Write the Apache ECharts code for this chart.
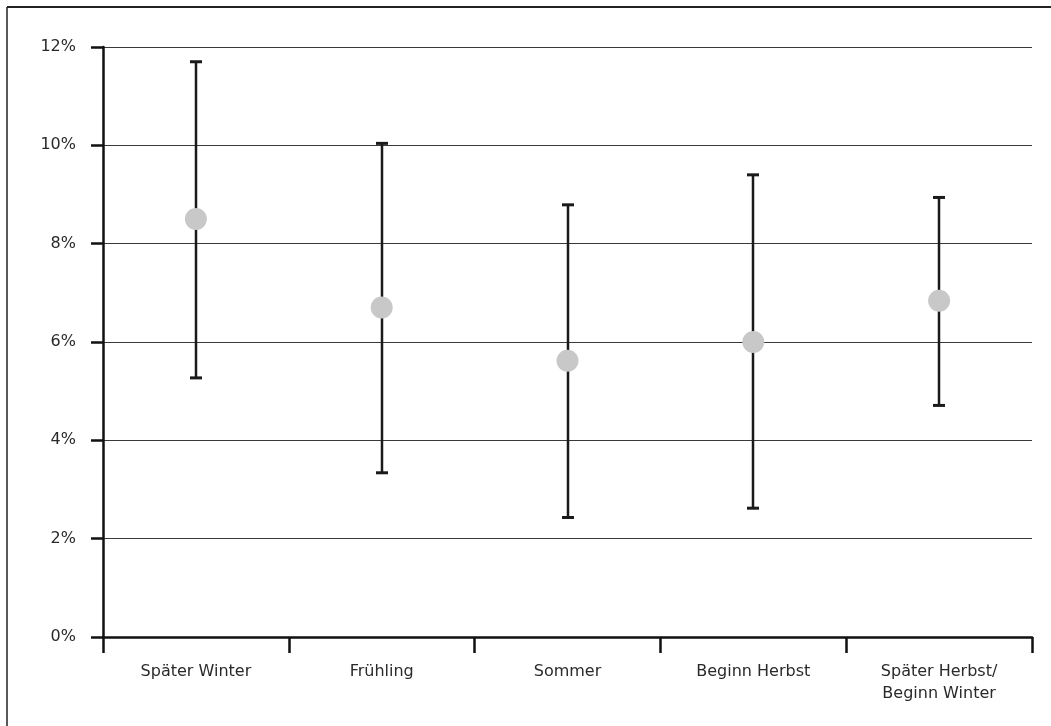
<!DOCTYPE html>
<html>
<head>
<meta charset="utf-8">
<script src="https://cdn.jsdelivr.net/npm/echarts@6/dist/echarts.min.js"></script>
<style>
html,body{margin:0;padding:0;background:#fff;}
#chart{width:1051px;height:726px;}
</style>
</head>
<body>
<div id="chart"></div>
<script>
const categories = ['Später Winter', 'Frühling', 'Sommer', 'Beginn Herbst', 'Später Herbst/\nBeginn Winter'];
const meanValues = [8.50, 6.70, 5.62, 6.00, 6.84];
const upperValues = [11.70, 10.04, 8.79, 9.40, 8.94];
const lowerValues = [5.27, 3.34, 2.43, 2.62, 4.71];
const yTicks = [0, 2, 4, 6, 8, 10, 12];

const chart = echarts.init(document.getElementById('chart'));
const errData = categories.map((c, i) => [i, lowerValues[i], upperValues[i]]);
const font = 'DejaVu Sans, Verdana, sans-serif';

chart.setOption({
  animation: false,
  backgroundColor: '#fff',
  graphic: [
    { type: 'line', shape: { x1: 7, y1: 7, x2: 1051, y2: 7 }, style: { stroke: '#222', lineWidth: 2 } },
    { type: 'line', shape: { x1: 7, y1: 7, x2: 7, y2: 726 }, style: { stroke: '#222', lineWidth: 1.5 } }
  ],
  grid: { left: 103, right: 19, top: 47, bottom: 89, containLabel: false },
  xAxis: {
    type: 'category',
    data: categories,
    boundaryGap: true,
    axisLine: { lineStyle: { color: '#111', width: 2.5 } },
    axisTick: { show: true, length: 16, lineStyle: { color: '#111', width: 2.5 } },
    axisLabel: { color: '#2a2a2a', fontFamily: font, fontSize: 16, margin: 24, lineHeight: 22 },
    splitLine: { show: false }
  },
  yAxis: {
    type: 'value',
    min: yTicks[0],
    max: yTicks[yTicks.length - 1],
    interval: 2,
    axisLine: { show: true, lineStyle: { color: '#111', width: 2.5 } },
    axisTick: { show: true, length: 12, lineStyle: { color: '#111', width: 2.5 } },
    axisLabel: { color: '#2a2a2a', fontFamily: font, fontSize: 16, margin: 27, formatter: v => v + '%' },
    splitLine: { show: true, lineStyle: { color: '#3a3a3a', width: 1.2 } }
  },
  series: [
    {
      type: 'custom',
      z: 3,
      data: errData,
      renderItem: function (params, api) {
        const x = api.value(0);
        const lo = api.coord([x, api.value(1)]);
        const hi = api.coord([x, api.value(2)]);
        const cx = Math.round(lo[0]);
        const half = 6;
        const style = { stroke: '#1a1a1a', lineWidth: 2.5 };
        return {
          type: 'group',
          children: [
            { type: 'line', shape: { x1: cx, y1: hi[1], x2: cx, y2: lo[1] }, style },
            { type: 'line', shape: { x1: cx - half, y1: hi[1], x2: cx + half, y2: hi[1] }, style: { stroke: '#1a1a1a', lineWidth: 3 } },
            { type: 'line', shape: { x1: cx - half, y1: lo[1], x2: cx + half, y2: lo[1] }, style: { stroke: '#1a1a1a', lineWidth: 3 } }
          ]
        };
      }
    },
    {
      type: 'scatter',
      z: 4,
      data: meanValues,
      symbol: 'circle',
      symbolSize: 22,
      itemStyle: { color: '#c8c8c8', opacity: 1 }
    }
  ]
});
</script>
</body>
</html>
